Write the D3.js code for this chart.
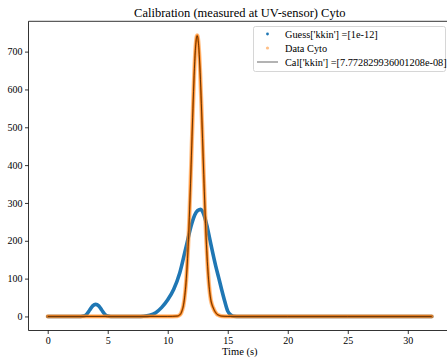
<!DOCTYPE html>
<html>
<head>
<meta charset="utf-8">
<script src="https://cdn.jsdelivr.net/npm/d3@7"></script>
<style>
  body { margin: 0; background: #fff; }
  svg { display: block; }
  svg text { font-family: "Liberation Serif", "Times New Roman", serif; }
</style>
</head>
<body>
<div id="chart"></div>
<script>
// valores
const guessTime = [0, 2.75, 3, 3.25, 3.5, 3.75, 4, 4.25, 4.5, 4.75, 5, 5.25, 7.5, 8, 8.5, 9, 9.5, 10, 10.5, 11, 11.5, 12, 12.25, 12.5, 12.75, 13, 13.25, 13.5, 13.75, 14, 14.25, 14.5, 14.75, 15, 15.25, 15.5, 16, 20, 25, 32];
const guessValues = [0, 0, 1, 6, 17, 28, 32, 28, 17, 6, 1, 0, 0, 0.5, 3, 10, 24, 44, 72, 115, 180, 245, 268, 280, 283, 270, 242, 205, 168, 133, 102, 70, 40, 14, 4, 0.5, 0, 0, 0, 0];

const dataTime = [0, 5, 10, 10.8, 10.9, 11.0, 11.1, 11.2, 11.3, 11.4, 11.5, 11.6, 11.7, 11.8, 11.9, 12.0, 12.1, 12.2, 12.3, 12.4, 12.45, 12.5, 12.6, 12.7, 12.8, 12.9, 13.0, 13.1, 13.2, 13.3, 13.4, 13.5, 13.6, 13.7, 13.8, 13.9, 14.0, 14.1, 14.2, 14.3, 14.4, 14.5, 15, 20, 25, 32];
const dataValues = [0, 0, 0, 1, 2, 4, 8, 16, 28, 49, 80, 125, 185, 262, 352, 451, 549, 637, 703, 738, 743, 739, 706, 645, 563, 470, 375, 286, 208, 145, 98, 64, 42, 30, 22, 15, 10, 6, 4, 2.5, 1.5, 0.8, 0, 0, 0, 0];
const calValues = [0, 0, 0, 1, 2, 4, 8, 16, 28, 49, 80, 125, 185, 262, 352, 451, 549, 637, 703, 737, 742, 738, 705, 645, 563, 470, 375, 286, 208, 145, 98, 64, 42, 30, 22, 15, 10, 6, 4, 2.5, 1.5, 0.8, 0, 0, 0, 0];

const xTicks = [0, 5, 10, 15, 20, 25, 30];
const yTicks = [0, 100, 200, 300, 400, 500, 600, 700];
const legendLabels = ["Guess['kkin'] =[1e-12]", "Data Cyto", "Cal['kkin'] =[7.772829936001208e-08]"];

const width = 447, height = 360;
const margin = { left: 28.5, top: 21.3, right: 451, bottom: 330.5 };
const serif = "'Liberation Serif', 'Times New Roman', serif";

const svg = d3.select("#chart").append("svg")
  .attr("width", width).attr("height", height);

const x = d3.scaleLinear().domain([-1.6, 33.6]).range([margin.left, margin.right]);
const y = d3.scaleLinear().domain([-37.15, 780.15]).range([margin.bottom, margin.top]);

// titulo
svg.append("text")
  .attr("x", (margin.left + margin.right) / 2).attr("y", 17)
  .attr("text-anchor", "middle").attr("font-size", 12.5).attr("fill", "#000")
  .text("Calibration (measured at UV-sensor) Cyto");

// ejes
const xAxis = svg.append("g")
  .attr("transform", `translate(0,${margin.bottom})`)
  .call(d3.axisBottom(x).tickValues(xTicks).tickSize(3.5).tickPadding(2.5).tickFormat(d3.format("d")));
const yAxis = svg.append("g")
  .attr("transform", `translate(${margin.left},0)`)
  .call(d3.axisLeft(y).tickValues(yTicks).tickSize(3.5).tickPadding(2.5).tickFormat(d3.format("d")));

[xAxis, yAxis].forEach(g => {
  g.attr("font-family", serif).attr("font-size", 10);
  g.select(".domain").remove();
  g.selectAll("line").attr("stroke", "#000").attr("stroke-width", 0.8);
  g.selectAll("text").attr("fill", "#000");
});

// spines
svg.append("line").attr("x1", margin.left).attr("x2", margin.right)
  .attr("y1", margin.bottom).attr("y2", margin.bottom).attr("stroke", "#000").attr("stroke-width", 0.8);
svg.append("line").attr("x1", margin.left).attr("x2", margin.right)
  .attr("y1", margin.top).attr("y2", margin.top).attr("stroke", "#000").attr("stroke-width", 0.8);
svg.append("line").attr("x1", margin.left).attr("x2", margin.left)
  .attr("y1", margin.top).attr("y2", margin.bottom).attr("stroke", "#000").attr("stroke-width", 0.8);

svg.append("text")
  .attr("x", (margin.left + margin.right) / 2).attr("y", 355)
  .attr("text-anchor", "middle").attr("font-size", 10.5).attr("fill", "#000")
  .text("Time (s)");

const line = d3.line().curve(d3.curveMonotoneX).x(d => x(d[0])).y(d => y(d[1]));

const guess = d3.zip(guessTime, guessValues);
const data = d3.zip(dataTime, dataValues);
const cal = d3.zip(dataTime, calValues);

svg.append("path").datum(guess).attr("d", line)
  .attr("fill", "none").attr("stroke", "#1f77b4").attr("stroke-width", 3.6)
  .attr("stroke-linejoin", "round").attr("stroke-linecap", "round");

svg.append("path").datum(data).attr("d", line)
  .attr("fill", "none").attr("stroke", "#ff7f0e").attr("stroke-opacity", 0.5).attr("stroke-width", 4.2)
  .attr("stroke-linejoin", "round").attr("stroke-linecap", "round");
svg.append("path").datum(data).attr("d", line)
  .attr("fill", "none").attr("stroke", "#ff7f0e").attr("stroke-width", 2.2)
  .attr("stroke-linejoin", "round").attr("stroke-linecap", "round");

svg.append("path").datum(cal).attr("d", line)
  .attr("fill", "none").attr("stroke", "#000").attr("stroke-opacity", 0.75).attr("stroke-width", 0.8);

// leyenda
const leg = svg.append("g");
leg.append("rect")
  .attr("x", 253.5).attr("y", 26.5).attr("width", 192).attr("height", 45).attr("rx", 2)
  .attr("fill", "#fff").attr("fill-opacity", 0.8).attr("stroke", "#ccc").attr("stroke-width", 0.8);

const rowY = [34, 48, 62];
leg.append("circle").attr("cx", 267.5).attr("cy", rowY[0]).attr("r", 1.4).attr("fill", "#1f77b4");
leg.append("circle").attr("cx", 267.5).attr("cy", rowY[1]).attr("r", 1.6).attr("fill", "#ff7f0e").attr("fill-opacity", 0.5);
leg.append("line").attr("x1", 257).attr("x2", 278).attr("y1", rowY[2]).attr("y2", rowY[2])
  .attr("stroke", "#000").attr("stroke-opacity", 0.75).attr("stroke-width", 0.8);

leg.selectAll("text.lab").data(legendLabels).join("text")
  .attr("class", "lab")
  .attr("x", 285).attr("y", (d, i) => rowY[i] + 3.5)
  .attr("font-size", 10.3).attr("fill", "#000")
  .text(d => d);
</script>
</body>
</html>
